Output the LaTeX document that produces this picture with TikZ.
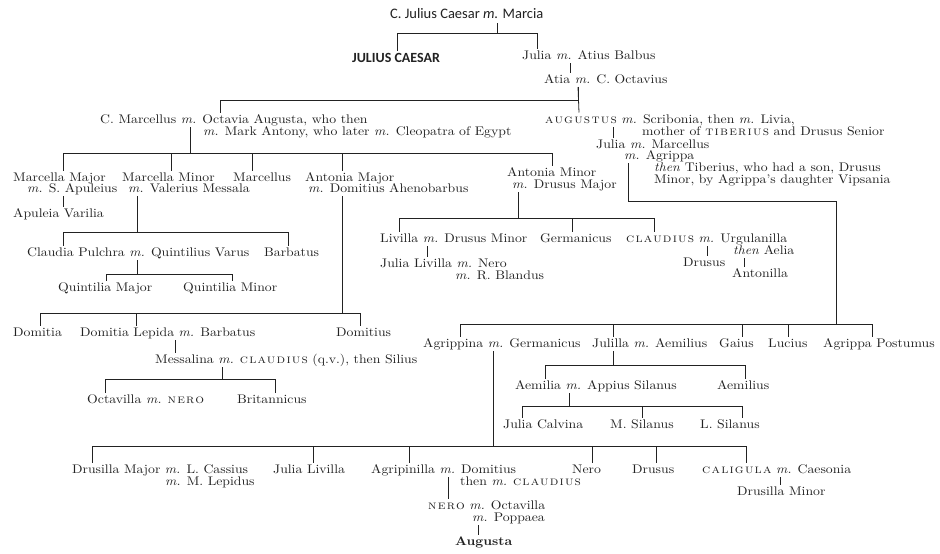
\documentclass[tikz,border=0pt]{standalone}
\usepackage{fontspec}
\setmainfont{lmroman10}[Extension=.otf, UprightFont=*-regular, ItalicFont=*-italic,
  BoldFont=*-bold, BoldItalicFont=*-bolditalic, FakeStretch=1.1]
\newfontfamily\roycaps{lmromancaps10-regular}[Extension=.otf, FakeStretch=1.1, LetterSpace=10]
\newfontfamily\calib{Carlito}
\definecolor{InkGrey}{HTML}{222222}
\newcommand\wed{\textit{m.}}
\newcommand\roy[1]{{\roycaps #1}}
\tikzset{
  person/.style={
    anchor=base west,
    inner sep=0pt,
    outer ysep=2pt,
    text height=8.5pt,
    text depth=2pt,
    font=\fontsize{12.5}{14}\selectfont,
    text=InkGrey
  },
  sanslabel/.style={person, text height=9.5pt, font=\calib\fontsize{14.5}{16}\selectfont},
  kin/.style={draw=InkGrey, line width=0.8pt}
}

\begin{document}
\begin{tikzpicture}[x=1pt, y=-1pt]
  \useasboundingbox (0,0) rectangle (940,554);
  \fill[white] (0,0) rectangle (940,554);
  % Caesar, Julia, Atia
  \node[sanslabel] (caesar) at (390,19) {C. Julius Caesar \textit{m.} Marcia};
  \node[sanslabel, font=\calib\bfseries\fontsize{14}{16}\selectfont] (jcaesar) at (352,62) {JULIUS CAESAR};
  \node[person] (juliaAB) at (522,59) {Julia \wed{} Atius Balbus};
  \node[person] (atia) at (544,83) {Atia \wed{} C. Octavius};
  % Octavia and Augustus
  \node[person] (octavia) at (100,123) {C. Marcellus \wed{} Octavia Augusta, who then};
  \node[person] (octavia2) at (203,135) {\wed{} Mark Antony, who later \wed{} Cleopatra of Egypt};
  \node[person] (augustus) at (545,123) {\roy{augustus} \wed{} Scribonia, then \wed{} Livia,};
  \node[person] (augustus2) at (642,135) {mother of \roy{tiberius} and Drusus Senior};
  \node[person] (juliaMA) at (596,148) {Julia \wed{} Marcellus};
  \node[person] (juliaMA2) at (624,159) {\wed{} Agrippa};
  \node[person] (juliaMA3) at (654,171) {\textit{then} Tiberius, who had a son, Drusus};
  \node[person] (juliaMA4) at (654,183) {Minor, by Agrippa's daughter Vipsania};
  % children of Octavia
  \node[person] (marcellaMaj) at (13,181) {Marcella Major};
  \node[person] (marcellaMaj2) at (27,192) {\wed{} S. Apuleius};
  \node[person] (marcellaMin) at (122,181) {Marcella Minor};
  \node[person] (marcellaMin2) at (128,192) {\wed{} Valerius Messala};
  \node[person] (marcellus) at (233,181) {Marcellus};
  \node[person] (antoniaMaj) at (305,181) {Antonia Major};
  \node[person] (antoniaMaj2) at (308,192) {\wed{} Domitius Ahenobarbus};
  \node[person] (antoniaMin) at (507,176) {Antonia Minor};
  \node[person] (antoniaMin2) at (512,188) {\wed{} Drusus Major};
  \node[person] (apuleia) at (13,217) {Apuleia Varilia};
  \node[person] (claudiaP) at (27,256) {Claudia Pulchra \wed{} Quintilius Varus};
  \node[person] (barbatus) at (264,256) {Barbatus};
  \node[person] (quintMaj) at (58,291) {Quintilia Major};
  \node[person] (quintMin) at (183,291) {Quintilia Minor};
  \node[person] (domitia) at (13,336) {Domitia};
  \node[person] (domitiaL) at (80,336) {Domitia Lepida \wed{} Barbatus};
  \node[person] (domitius) at (336,336) {Domitius};
  \node[person] (messalina) at (155,363) {Messalina \wed{} \roy{claudius} (q.v.), then Silius};
  \node[person] (octavilla) at (87,403) {Octavilla \wed{} \roy{nero}};
  \node[person] (britannicus) at (237,403) {Britannicus};
  \node[person] (livilla) at (380,242) {Livilla \wed{} Drusus Minor};
  \node[person] (germanicusA) at (540,242) {Germanicus};
  \node[person] (claudius) at (626,242) {\roy{claudius} \wed{} Urgulanilla};
  \node[person] (claudius2) at (733,254) {\textit{then} Aelia};
  \node[person] (juliaLN) at (380,267) {Julia Livilla \wed{} Nero};
  \node[person] (juliaLN2) at (455,279) {\wed{} R. Blandus};
  \node[person] (drususC) at (683,266) {Drusus};
  \node[person] (antonilla) at (732,277) {Antonilla};
  % children of Julia
  \node[person] (agrippina) at (423,347) {Agrippina \wed{} Germanicus};
  \node[person] (julilla) at (592,347) {Julilla \wed{} Aemilius};
  \node[person] (gaius) at (719,347) {Gaius};
  \node[person] (lucius) at (768,347) {Lucius};
  \node[person] (agrippaP) at (823,347) {Agrippa Postumus};
  \node[person] (aemilia) at (515,389) {Aemilia \wed{} Appius Silanus};
  \node[person] (aemilius) at (717,389) {Aemilius};
  \node[person] (juliaC) at (503,428) {Julia Calvina};
  \node[person] (mSilanus) at (610,428) {M. Silanus};
  \node[person] (lSilanus) at (700,428) {L. Silanus};
  % children of Agrippina
  \node[person] (drusillaMaj) at (72,473) {Drusilla Major \wed{} L. Cassius};
  \node[person] (drusillaMaj2) at (165,485) {\wed{} M. Lepidus};
  \node[person] (juliaLiv) at (273,473) {Julia Livilla};
  \node[person] (agripinilla) at (371,473) {Agripinilla \wed{} Domitius};
  \node[person] (agripinilla2) at (460,485) {then \wed{} \roy{claudius}};
  \node[person] (nero) at (572,473) {Nero};
  \node[person] (drusus) at (632,473) {Drusus};
  \node[person] (caligula) at (702,473) {\roy{caligula} \wed{} Caesonia};
  \node[person] (drusillaMin) at (737,495) {Drusilla Minor};
  \node[person] (neroN) at (428,509) {\roy{nero} \wed{} Octavilla};
  \node[person] (neroN2) at (472,521) {\wed{} Poppaea};
  \node[person] (augusta) at (455,545) {\textbf{Augusta}};

  % lines of descent
  \draw[kin] ([xshift=107pt]caesar.south west) -- ++(0,10) coordinate (bCaesar);
  \draw[kin] (bCaesar) -| ([xshift=45pt]jcaesar.north west);
  \draw[kin] (bCaesar) -| ([xshift=15pt]juliaAB.north west);
  \draw[kin] ([xshift=48pt]juliaAB.south west) -- ([xshift=26pt]atia.north west);
  \draw[kin] ([xshift=34pt]atia.south west) -- ([xshift=34pt]augustus.north west);
  \draw[kin] ([xshift=34pt]atia.south west) -- ++(0,13) -| ([xshift=120pt]octavia.north west);
  \draw[kin] ([xshift=68pt]augustus.south west) -- ([xshift=17pt]juliaMA.north west);
  % Octavia
  \draw[kin] ([xshift=90pt]octavia.south west) -- ++(0,26) coordinate (bOct);
  \draw[kin] (bOct) -| ([xshift=50pt]marcellaMaj.north west);
  \draw[kin] (bOct) -| ([xshift=49pt]marcellaMin.north west);
  \draw[kin] (bOct) -| ([xshift=19pt]marcellus.north west);
  \draw[kin] (bOct) -| ([xshift=37pt]antoniaMaj.north west);
  \draw[kin] (bOct) -| ([xshift=45pt]antoniaMin.north west);
  \draw[kin] ([xshift=36pt]marcellaMaj2.south west) -- ([xshift=50pt]apuleia.north west);
  \draw[kin] ([xshift=9pt]marcellaMin2.south west) -- ++(0,36) coordinate (bMin);
  \draw[kin] (bMin) -| ([xshift=36pt]claudiaP.north west);
  \draw[kin] (bMin) -| ([xshift=24pt]barbatus.north west);
  \draw[kin] ([xshift=110pt]claudiaP.south west) -- ++(0,14) coordinate (bCla);
  \draw[kin] (bCla) -| ([xshift=48pt]quintMaj.north west);
  \draw[kin] (bCla) -| ([xshift=49pt]quintMin.north west);
  \draw[kin] ([xshift=34pt]antoniaMaj2.south west) -- ++(0,117) coordinate (bAnt);
  \draw[kin] (bAnt) -| ([xshift=27pt]domitia.north west);
  \draw[kin] (bAnt) -| ([xshift=56pt]domitiaL.north west);
  \draw[kin] (bAnt) -| ([xshift=24pt]domitius.north west);
  \draw[kin] ([xshift=95pt]domitiaL.south west) -- ([xshift=20pt]messalina.north west);
  \draw[kin] ([xshift=67pt]messalina.south west) -- ++(0,12) coordinate (bMes);
  \draw[kin] (bMes) -| ([xshift=18pt]octavilla.north west);
  \draw[kin] (bMes) -| ([xshift=38pt]britannicus.north west);
  \draw[kin] ([xshift=6pt]antoniaMin2.south west) -- ++(0,26) coordinate (bAmi);
  \draw[kin] (bAmi) -| ([xshift=19pt]livilla.north west);
  \draw[kin] (bAmi) -| ([xshift=32pt]germanicusA.north west);
  \draw[kin] (bAmi) -| ([xshift=28pt]claudius.north west);
  \draw[kin] ([xshift=47pt]livilla.south west) -- ([xshift=47pt]juliaLN.north west);
  \draw[kin] ([xshift=81pt]claudius.south west) -- ([xshift=24pt]drususC.north west);
  \draw[kin] ([xshift=11pt]claudius2.south west) -- ([xshift=12pt]antonilla.north west);
  % Julia and Agrippa
  \draw[kin] ([xshift=4pt]juliaMA2.south west) -- ++(0,38) -- ++(208,0) -- ++(0,123) coordinate (bJul);
  \draw[kin] (bJul) -| ([xshift=37pt]agrippina.north west);
  \draw[kin] (bJul) -| ([xshift=21pt]julilla.north west);
  \draw[kin] (bJul) -| ([xshift=23pt]gaius.north west);
  \draw[kin] (bJul) -| ([xshift=20pt]lucius.north west);
  \draw[kin] (bJul) -| ([xshift=49pt]agrippaP.north west);
  \draw[kin] ([xshift=21pt]julilla.south west) -- ++(0,14) coordinate (bJll);
  \draw[kin] (bJll) -| ([xshift=30pt]aemilia.north west);
  \draw[kin] (bJll) -| ([xshift=28pt]aemilius.north west);
  \draw[kin] ([xshift=54pt]aemilia.south west) -- ++(0,13) coordinate (bAem);
  \draw[kin] (bAem) -| ([xshift=19pt]juliaC.north west);
  \draw[kin] (bAem) -| ([xshift=32pt]mSilanus.north west);
  \draw[kin] (bAem) -| ([xshift=42pt]lSilanus.north west);
  % Agrippina and Germanicus
  \draw[kin] ([xshift=70pt]agrippina.south west) -- ++(0,95) coordinate (bAgr);
  \draw[kin] (bAgr) -| ([xshift=20pt]drusillaMaj.north west);
  \draw[kin] (bAgr) -| ([xshift=40pt]juliaLiv.north west);
  \draw[kin] (bAgr) -| ([xshift=38pt]agripinilla.north west);
  \draw[kin] (bAgr) -| ([xshift=20pt]nero.north west);
  \draw[kin] (bAgr) -| ([xshift=24pt]drusus.north west);
  \draw[kin] (bAgr) -| ([xshift=44pt]caligula.north west);
  \draw[kin] ([xshift=78pt]caligula.south west) -- ([xshift=43pt]drusillaMin.north west);
  \draw[kin] ([xshift=77pt]agripinilla.south west) -- ([xshift=20pt]neroN.north west);
  \draw[kin] ([xshift=6pt]neroN2.south west) -- ([xshift=23pt]augusta.north west);
\end{tikzpicture}
\end{document}
